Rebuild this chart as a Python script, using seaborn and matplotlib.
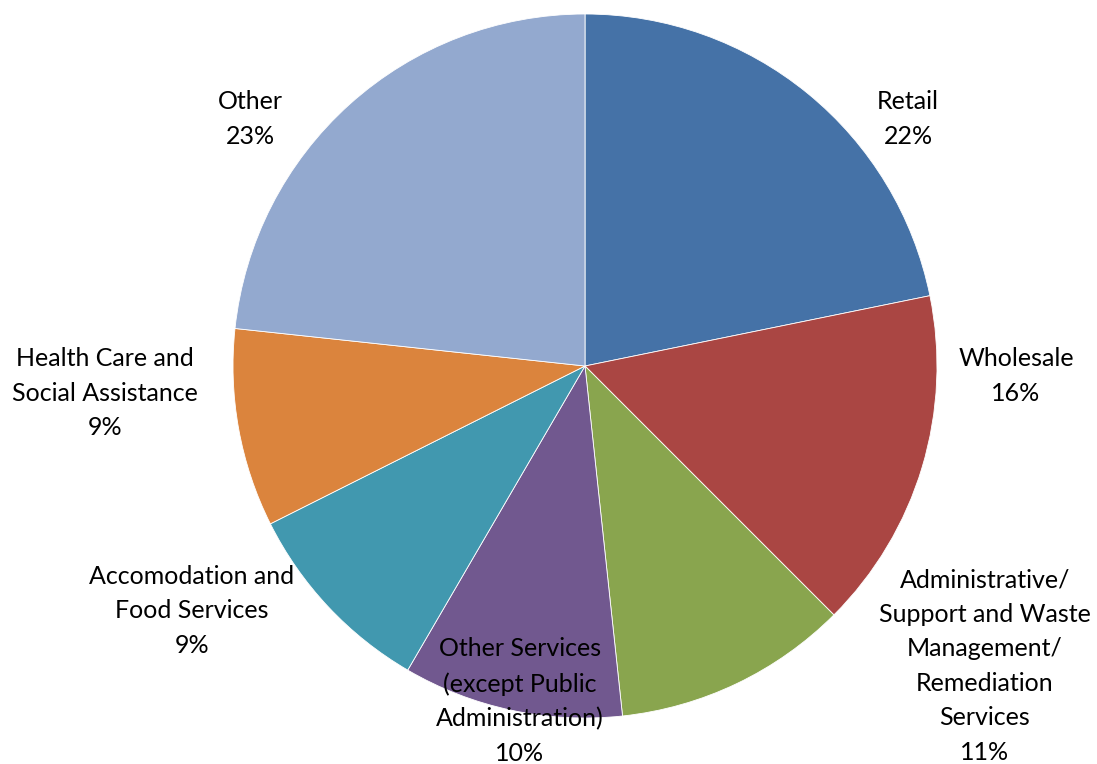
import numpy as np
import matplotlib
matplotlib.use("Agg")
import matplotlib.pyplot as plt
import seaborn as sns

# slice data (clockwise from 12 o'clock)
categories = ["Retail", "Wholesale",
              "Administrative/\nSupport and Waste\nManagement/\nRemediation\nServices",
              "Other Services\n(except Public\nAdministration)",
              "Accomodation and\nFood Services",
              "Health Care and\nSocial Assistance",
              "Other"]
shares = [21.8, 15.7, 10.8, 10.1, 9.2, 9.1, 23.3]
pct_labels = ["22%", "16%", "11%", "10%", "9%", "9%", "23%"]
colors = ["#4572A7", "#AA4643", "#89A54E", "#71588F",
          "#4198AF", "#DB843D", "#93A9CF"]

sns.set_theme(style="white")
plt.rcParams["font.family"] = ["Lato", "DejaVu Sans"]

W, H, dpi = 1097, 764, 100
fig = plt.figure(figsize=(W / dpi, H / dpi), dpi=dpi)
ax = fig.add_axes([0, 0, 1, 1])

# pie centre / radius in pixels of the target picture
cx, cy, r = 585, 366, 352

ax.pie(shares, colors=colors, startangle=90, counterclock=False,
       radius=1.0, wedgeprops=dict(edgecolor="white", linewidth=0.6))

ax.set_xlim(-cx / r, (W - cx) / r)
ax.set_ylim((cy - H) / r, cy / r)
ax.set_aspect("auto")
ax.axis("off")

# label centres in pixel coords
label_px = [(908, 119), (1016, 376), (985, 666), (520, 701),
            (192, 611), (105, 393), (250, 119)]

for name, pct, (px, py) in zip(categories, pct_labels, label_px):
    ax.text((px - cx) / r, (cy - py) / r, f"{name}\n{pct}",
            ha="center", va="center", multialignment="center",
            fontsize=18, linespacing=1.6, color="black")

fig.savefig("out.png", dpi=dpi, facecolor="white")
